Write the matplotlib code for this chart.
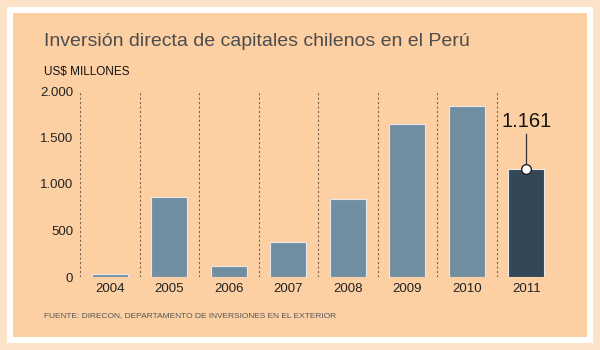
import matplotlib
matplotlib.use("Agg")
from matplotlib import pyplot as plt
from matplotlib.patches import Rectangle

plt.rcParams['font.family'] = ['Liberation Sans', 'DejaVu Sans']

# datos (US$ millones)
years = ['2004', '2005', '2006', '2007', '2008', '2009', '2010', '2011']
values = [30, 855, 118, 376, 839, 1648, 1835, 1161]
yticks = [0, 500, 1000, 1500, 2000]
ytick_labels = ['0', '500', '1.000', '1.500', '2.000']
highlight_label = '1.161'

BG_OUT = '#fee3cb'
BG_IN = '#fdd0a4'
BAR = '#718fa2'
BAR_DARK = '#344757'

fig = plt.figure(figsize=(6, 3.5), dpi=100)
fig.patch.set_facecolor(BG_OUT)

# marco blanco y panel interior
W, H = 600.0, 350.0
fig.patches.append(Rectangle((7 / W, 7 / H), 586 / W, 336 / H, transform=fig.transFigure,
                             facecolor='white', edgecolor='none', zorder=-2))
fig.patches.append(Rectangle((13 / W, 13 / H), 574 / W, 324 / H, transform=fig.transFigure,
                             facecolor=BG_IN, edgecolor='none', zorder=-1))

ax = fig.add_axes([80 / W, 1 - 277 / H, 476 / W, 186 / H])
ax.set_facecolor('none')

x = list(range(len(years)))
colors = [BAR] * (len(years) - 1) + [BAR_DARK]
ax.bar(x, values, width=0.6, color=colors, edgecolor='#e8e8e8', linewidth=0.8, zorder=3)

# separadores punteados
for i in range(len(years) + 1):
    ax.axvline(i - 0.5, color='#7a6450', linestyle=(0, (2, 2)), linewidth=0.8, zorder=1)

ax.set_xlim(-0.5, len(years) - 0.5)
ax.set_ylim(0, 2000)
ax.set_xticks(x)
ax.set_xticklabels(years, fontsize=9.5, color='#222222')
ax.set_yticks(yticks)
ax.set_yticklabels(ytick_labels, fontsize=9.5, color='#222222')
ax.tick_params(length=0, pad=5)
ax.tick_params(axis='x', pad=4)
for s in ax.spines.values():
    s.set_visible(False)

# valor destacado 2011
last = len(years) - 1
ax.plot([last, last], [values[last], 1540], color='#333333', linewidth=0.9, zorder=4)
ax.plot(last, values[last], 'o', markersize=7, markerfacecolor='white',
        markeredgecolor='#222222', markeredgewidth=1, zorder=5)
ax.text(last, 1565, highlight_label, ha='center', va='bottom', fontsize=14.5, color='#111111')

fig.text(44 / W, 1 - 42 / H, 'Inversión directa de capitales chilenos en el Perú',
         fontsize=14, color='#4d4d4d', va='center', ha='left')
fig.text(44 / W, 1 - 72 / H, 'US$ MILLONES', fontsize=8.5, color='#111111', va='center')
fig.text(44 / W, 1 - 316 / H, 'FUENTE: DIRECON, DEPARTAMENTO DE INVERSIONES EN EL EXTERIOR',
         fontsize=6, color='#555555', va='center')

fig.savefig('out.png', dpi=100, facecolor=fig.get_facecolor())
